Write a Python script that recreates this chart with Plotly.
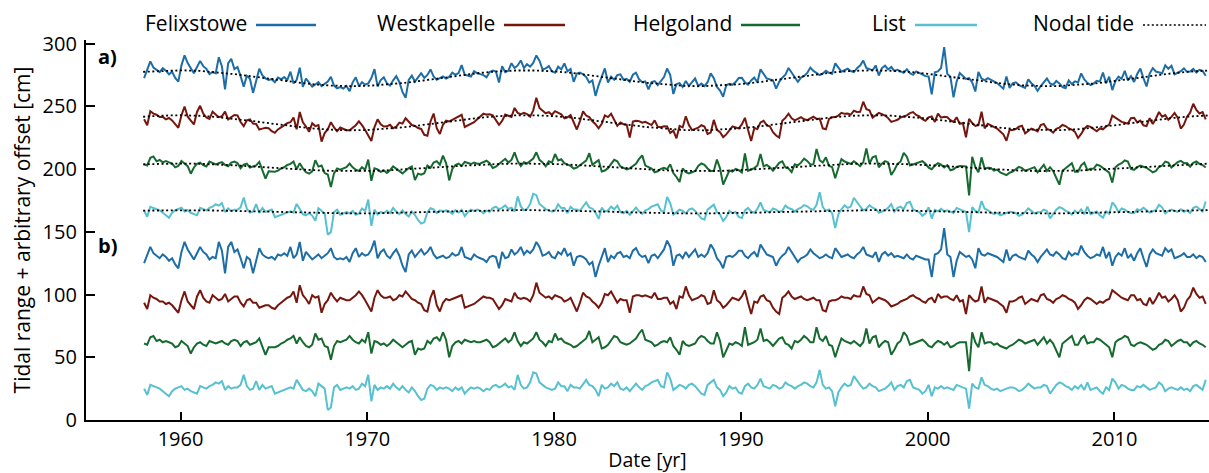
import numpy as np
import plotly.graph_objects as go

# ---------------- data ----------------
# bimonthly tidal-range anomalies [cm], 6 values per year, 1958 .. 2014
felixstowe_anom = [
    -5, 2, 8, 3, 1, -1,      2, 0, -3, -1, -6, -9,     4, 12, 6, 2, -2, 3,      8, 4, 2, -2, 0, -1,
    12, 5, -13, 8, 12, 4,    6, -1, -9, 0, -2, -13,    -4, 7, 2, 0, -1, 0,      -2, 2, 1, 3, 1, 8,
    -1, 2, 12, -3, 4, 1,     -2, 0, 2, -1, 1, 3,       7, 0, -2, -1, -2, 0,     -4, 3, 7, 0, 3, 1,
    2, 6, 13, -1, 4, 6,      1, -1, 3, 6, 1, -7,       -12, 2, 5, 0, 3, 6,      2, 4, 8, 2, -1, 0,
    1, -1, 0, 3, 1, 2,       8, 0, -1, -2, 2, 0,       -1, -2, -4, 0, 1, 0,     -9, 4, -1, 0, 6, 2,
    4, 8, 2, 5, 3, 6,        12, 8, 1, 2, 4, 0,        -1, 4, 2, 7, 1, 3,       -7, 0, 1, 0, -2, -6,
    -4, -16, -7, 0, 7, -4,   1, -1, 3, 4, 0, 1,        -1, 5, 7, 2, 0, 1,       -5, 1, 2, -1, 3, 6,
    13, 8, -7, 1, 2, -1,     4, 0, 3, 6, 0, 2,         0, 3, 10, 6, -1, -4,     -9, 0, 1, 0, 2, 5,
    5, 1, -1, 2, 4, 0,       10, 6, 2, 1, 0, -7,       -2, 1, 3, 8, 4, 1,       -4, -1, 0, 2, 6, 3,
    1, -1, 0, 2, 0, -1,      7, 3, 0, 1, 2, 0,         -1, 2, 4, 8, 2, 1,       0, 4, -4, 2, 4, 1,
    3, 0, 1, 0, -1, 2,       -1, -2, 1, 0, -1, -2,     -2, -16, 2, 3, 6, 23,    2, 0, -16, -3, 4, 2,
    0, 1, -2, -9, 7, 2,      1, 3, 2, 1, 0, -2,        -4, 6, -3, 1, 2, 0,      -1, -2, 5, 2, 0, -4,
    0, 3, 6, 2, 1, 4,        2, -1, -2, 4, 1, 3,       2, 9, 4, 1, -1, 0,       2, 1, 8, -1, 4, -7,
    0, 3, 1, 7, -1, 2,       -3, 3, 7, -1, -8, 2,      6, 3, 2, 1, 7, 4,        6, -1, 0, 1, 3, 0,
    0, 2, -1, 1, 0, -4,
]
westkapelle_anom = [
    -2, -7, 4, 2, 1, -1,     -1, -3, -2, -4, -7, -10,  0, 7, -1, -4, -7, 3,     8, 2, -1, -2, 4, 2,
    0, 1, 5, -1, 1, 3,       3, -2, -5, 0, 1, -2,      -2, -6, -5, -4, -4, -6,  -7, -4, -2, 0, 2, 3,
    7, -2, 12, 4, 1, -3,     4, 2, 3, -10, -3, 0,      6, 2, -1, 2, 1, 0,       0, 2, 4, 7, 4, 0,
    -4, -9, 2, 8, 4, 2,      2, 3, 0, 1, 4, 3,         7, 4, 1, 0, -2, -3,      -8, -9, 2, 8, -4, -9,
    -2, 1, 0, 1, 2, 3,       4, -6, -5, -4, -3, -1,    1, 3, 2, 2, 1, -3,       -7, -4, 1, 0, -1, 6,
    2, 1, 2, 1, -1, 4,       14, 6, 4, 2, 3, 1,        4, 3, 2, -1, 0, 2,       -3, -9, -2, 6, 3, 2,
    -1, -3, -6, -2, 5, 4,    7, 2, -2, 1, 0, 0,        -10, 3, 4, 4, 3, 4,      3, 2, 6, 1, 1, 2,
    2, -3, -1, -7, 3, 2,     11, 4, 0, 1, 2, 4,        3, -3, -2, 8, 0, -2,     -6, -4, -1, 2, 1, 0,
    3, 8, -2, -11, -1, -2,   3, 4, 0, -1, -6, -9,      -11, 2, 4, 7, 3, 1,      2, 3, 1, 0, 1, 2,
    0, 0, -8, -9, -1, 0,     0, 1, 3, 2, 2, 1,         4, 3, 3, 11, 5, 4,       -2, 0, 2, 1, 0, -2,
    -5, -4, -3, -1, 0, 1,    3, 4, 2, 1, -1, -2,       1, 2, -2, 5, 2, 3,       3, 1, 0, 4, -1, 0,
    -11, 4, 1, -1, 0, 11,    -2, 2, 1, 0, -1, -3,      -5, -10, -1, -1, 0, 2,   3, -3, -1, 1, 0, -1,
    4, 5, 1, 0, -2, 1,       2, 4, 3, 1, 0, -2,        -7, -4, 0, 2, 1, -1,     -3, -1, -2, 0, 1, 8,
    6, 4, 2, 1, 0, 4,        4, 0, 1, -3, -4, 2,       -3, 1, 6, 2, 3, -1,      1, 4, 0, -9, -6, 0,
    3, 10, 5, 2, 3, -3,
]
helgoland_anom = [
    0, -1, 5, 6, 2, 3,       1, 2, 1, 0, -3, -2,       2, 0, -2, -8, -3, 0,     1, -1, -2, 2, 1, 0,
    1, 2, 0, -1, 2, 3,       2, -2, 1, 2, -1, 0,       1, 4, -2, -9, -3, -3,    -3, -2, 0, 1, 3, 4,
    6, 0, 5, 1, -2, -3,      -1, 8, 3, 4, -2, -3,      -13, -2, 2, 1, 2, 3,     6, 3, 1, 0, 3, 1,
    9, -8, 2, 1, -1, 0,      -2, 0, 3, 1, -1, -3,      -1, 1, 2, -9, -4, -5,    -4, 2, 0, 4, 5, 2,
    9, 3, -11, -2, 1, 2,     0, 3, 2, 1, 2, 1,         1, 2, 3, 1, -3, -2,      0, 2, 4, 1, 3, 9,
    2, -2, 1, 0, 2, 4,       9, 3, 1, -2, 2, 1,        8, 3, 4, 1, 0, -1,       -3, -2, 0, 2, 4, 10,
    1, 3, 5, -4, -3, -1,     3, 6, 5, 1, 0, -1,        0, 2, 4, 8, 11, 3,       2, 1, -2, -1, 1, 2,
    1, 5, -2, -5, -9, 2,     -1, -2, -1, 0, 4, 6,      5, 2, 0, 0, 9, 2,        -11, -5, 0, -1, 1, 0,
    -2, 13, -1, 0, 1, 3,     12, 2, 3, 1, -2, 1,       4, 5, 0, -1, -4, 2,      1, 3, 6, 4, 1, 1,
    13, 4, 2, 6, -1, -2,     -11, -3, 4, 2, 1, 0,      2, 0, -2, 1, 12, 0,      5, 6, -3, 0, 2, 1,
    -9, -5, 0, 2, 9, 6,      -1, 0, 1, 2, 3, 1,        -2, -3, 0, 2, 1, -1,     1, -3, -2, 0, 1, 1,
    1, -22, 9, 1, -3, 9,     0, 1, 1, -1, 0, -2,       -3, -4, -2, -1, 1, 3,    2, 0, 1, 2, 3, -1,
    2, 5, 0, 3, 0, -5,       -11, 0, 2, 4, 6, -1,      -1, 4, 6, 0, 1, 1,       4, 3, 1, -1, -3, -11,
    1, 3, 4, 6, 5, -1,       -2, 0, 1, 0, -1, -3,      -5, -4, -1, 0, 3, 2,     -2, 0, 2, 3, 1, 1,
    -2, 1, 2, 0, -1, -3,
]
list_anom = [
    0, -5, 3, 2, 1, 0,       -2, -4, -6, -2, 0, 1,     2, -1, 0, -2, -3, -4,    2, 1, 0, 2, 3, 5,
    4, 6, -1, 2, 0, 1,       1, 3, 11, 2, -1, 0,       6, -1, 3, 0, 1, 2,       -4, -3, -2, -1, 0, 1,
    0, 7, 3, -1, -2, 0,      -2, -6, 4, 2, 0, -17,     -15, 1, 3, -1, 0, 1,     0, 2, -1, 0, 4, 2,
    11, -10, 3, -1, 1, 0,    2, 0, 4, 1, -1, 2,        -1, -3, 1, -2, -6, -9,   -8, 0, 3, 2, -1, 1,
    0, 1, 0, -2, 1, -1,      1, -4, -1, 1, 0, 1,       0, -2, 0, -1, 2, 3,      1, 2, 4, 1, 2, -1,
    11, 3, 0, 1, 5, 13,      12, 5, 3, 1, 0, -1,       0, 5, 2, 2, -2, 3,       1, 1, 0, 4, 7, 3,
    2, -1, -6, 3, 0, 1,      4, 2, 5, 0, -1, 1,        -2, 1, 4, 1, -1, 2,      3, 5, 6, 7, 2, 1,
    13, 8, -1, 1, 3, 2,      0, 3, 4, 2, -1, -4,       -5, 3, 5, 7, 1, -1,      -6, -3, 2, 0, 1, -3,
    -4, 2, 4, 1, 0, 3,       8, 2, 1, 0, 3, 2,         0, 1, 5, 3, 2, 0,        2, 3, 5, 4, 2, 1,
    5, 15, 3, 0, 1, -2,      -14, -3, 1, 4, 2, 3,      10, 6, 3, 0, 1, 4,       2, 1, -2, -1, 0, 2,
    5, -1, 2, 3, 1, 6,       7, 1, 0, -1, -4, -2,      3, -6, 1, 0, 2, 0,       1, 0, -1, 3, 2, 1,
    0, -16, 4, 1, 0, 9,      3, 2, 0, -1, 0, -2,       -1, 0, 1, 1, 0, -2,      -1, 1, 4, 2, 0, 1,
    1, 3, 2, -4, 0, 3,       5, 4, 2, 1, -1, 2,        0, 3, -1, 5, -1, 0,      1, -2, -4, 1, -1, 8,
    5, 0, 3, 2, 0, -1,       -1, 2, 1, 3, 1, -1,       0, 1, 5, 3, -2, 0,       1, 0, -1, 1, -1, 0,
    -2, 2, 3, 1, -1, 7,
]

# nodal tide (yearly values, cm) read from the dotted curves of panel a)
nodal_years = list(range(1958, 2016))
felixstowe_nodal = [
    277.6, 278.5, 278.8, 278.4, 277.3, 275.6, 273.6, 271.5, 269.5, 267.8, 266.7, 266.2, 266.4, 267.3,
    268.8, 270.7, 272.8, 274.9, 276.7, 278.0, 278.7, 278.7, 278.0, 276.7, 274.9, 272.8, 270.7, 268.8,
    267.3, 266.4, 266.2, 266.7, 267.8, 269.5, 271.5, 273.6, 275.6, 277.3, 278.4, 278.8, 278.5, 277.6,
    276.0, 274.1, 272.0, 270.0, 268.2, 266.9, 266.3, 266.3, 267.1, 268.4, 270.3, 272.4, 274.5, 276.3,
    277.8, 278.6,
]
westkapelle_nodal = [
    241.8, 242.7, 243.0, 242.6, 241.5, 240.0, 238.1, 236.1, 234.2, 232.6, 231.5, 231.0, 231.2, 232.1,
    233.5, 235.3, 237.3, 239.3, 241.0, 242.3, 242.9, 242.9, 242.3, 241.0, 239.3, 237.3, 235.3, 233.5,
    232.1, 231.2, 231.0, 231.5, 232.6, 234.2, 236.1, 238.1, 240.0, 241.5, 242.6, 243.0, 242.7, 241.8,
    240.4, 238.5, 236.5, 234.6, 232.9, 231.7, 231.1, 231.1, 231.8, 233.1, 234.9, 236.9, 238.9, 240.6,
    242.0, 242.8,
]
helgoland_nodal = [
    203.9, 204.4, 204.5, 204.3, 203.8, 203.0, 202.0, 201.0, 200.1, 199.3, 198.7, 198.5, 198.6, 199.0,
    199.7, 200.7, 201.7, 202.6, 203.5, 204.1, 204.5, 204.5, 204.1, 203.5, 202.6, 201.7, 200.7, 199.7,
    199.0, 198.6, 198.5, 198.7, 199.3, 200.1, 201.0, 202.0, 203.0, 203.8, 204.3, 204.5, 204.4, 203.9,
    203.2, 202.3, 201.3, 200.3, 199.4, 198.8, 198.5, 198.6, 198.9, 199.6, 200.4, 201.4, 202.4, 203.3,
    204.0, 204.4,
]
list_nodal = [
    167.0, 167.2, 167.3, 167.2, 167.0, 166.6, 166.2, 165.8, 165.4, 165.0, 164.8, 164.7, 164.7, 164.9,
    165.2, 165.6, 166.1, 166.5, 166.9, 167.1, 167.3, 167.3, 167.1, 166.9, 166.5, 166.1, 165.6, 165.2,
    164.9, 164.7, 164.7, 164.8, 165.0, 165.4, 165.8, 166.2, 166.6, 167.0, 167.2, 167.3, 167.2, 167.0,
    166.7, 166.3, 165.9, 165.5, 165.1, 164.8, 164.7, 164.7, 164.9, 165.2, 165.5, 166.0, 166.4, 166.8,
    167.1, 167.3,
]

# arbitrary offsets of the detrended series in panel b)
offset_b = {"Felixstowe": 130.0, "Westkapelle": 95.5, "Helgoland": 61.0, "List": 25.0}

stations = ["Felixstowe", "Westkapelle", "Helgoland", "List"]
colors = {"Felixstowe": "#1d6da6", "Westkapelle": "#76170f",
          "Helgoland": "#166a2f", "List": "#57c1d0"}
anoms = {"Felixstowe": felixstowe_anom, "Westkapelle": westkapelle_anom,
         "Helgoland": helgoland_anom, "List": list_anom}
nodals = {"Felixstowe": felixstowe_nodal, "Westkapelle": westkapelle_nodal,
          "Helgoland": helgoland_nodal, "List": list_nodal}

n = len(felixstowe_anom)
t = 1958.05 + np.arange(n) / 6.0

fig = go.Figure()
for s in stations:
    a = np.array(anoms[s], dtype=float)
    nod = np.interp(t, np.array(nodal_years, dtype=float), np.array(nodals[s]))
    fig.add_trace(go.Scatter(x=t, y=nod + a, mode="lines",
                             line=dict(color=colors[s], width=2.0), showlegend=False))
    fig.add_trace(go.Scatter(x=t, y=offset_b[s] + a, mode="lines",
                             line=dict(color=colors[s], width=2.0), showlegend=False))
for s in stations:
    fig.add_trace(go.Scatter(x=nodal_years, y=nodals[s], mode="lines",
                             line=dict(color="black", width=1.8, dash="2px,2.6px"),
                             showlegend=False))

# ---------------- layout ----------------
W, H = 1209, 473
ML, MR, MT, MB = 86, 0, 40, 53
PW, PH = W - ML - MR, H - MT - MB
FONT = "Open Sans"


def px(xp):
    return (xp - ML) / PW


def py(yp):
    return (H - MB - yp) / PH


annotations = []
shapes = []
legend_items = [("Felixstowe", 256, 316, colors["Felixstowe"], "solid"),
                ("Westkapelle", 504, 565, colors["Westkapelle"], "solid"),
                ("Helgoland", 741, 800, colors["Helgoland"], "solid"),
                ("List", 915, 977, colors["List"], "solid"),
                ("Nodal tide", 1143, 1206, "black", "dot")]
for name, x0, x1, col, dash in legend_items:
    annotations.append(dict(text=name, x=px(x0 - 7), y=py(22.5), xref="paper", yref="paper",
                            xanchor="right", yanchor="middle", showarrow=False,
                            font=dict(family=FONT, size=21, color="black")))
    shapes.append(dict(type="line", xref="paper", yref="paper", x0=px(x0), x1=px(x1),
                       y0=py(25), y1=py(25),
                       line=dict(color=col, width=2.5 if dash == "solid" else 1.6,
                                 dash="solid" if dash == "solid" else "2px,2.4px")))

for lab, yy in [("a)", 56), ("b)", 245)]:
    annotations.append(dict(text="<b>%s</b>" % lab, x=px(96), y=py(yy), xref="paper",
                            yref="paper", xanchor="left", yanchor="middle", showarrow=False,
                            font=dict(family=FONT, size=20, color="black")))

fig.update_layout(
    width=W, height=H,
    margin=dict(l=ML, r=MR, t=MT, b=MB),
    paper_bgcolor="white", plot_bgcolor="white",
    font=dict(family=FONT, size=20, color="black"),
    annotations=annotations, shapes=shapes,
    xaxis=dict(range=[1954.94, 2015.06], tickvals=[1960, 1970, 1980, 1990, 2000, 2010],
               ticks="inside", ticklen=8, tickwidth=2, tickcolor="black",
               showline=True, linecolor="black", linewidth=2.2, showgrid=False,
               zeroline=False, tickfont=dict(family=FONT, size=20),
               title=dict(text="Date [yr]", font=dict(family=FONT, size=19.5), standoff=5)),
    yaxis=dict(range=[0, 303], tickvals=[0, 50, 100, 150, 200, 250, 300],
               ticks="inside", ticklen=9, tickwidth=2, tickcolor="black",
               ticklabelstandoff=3,
               showline=True, linecolor="black", linewidth=2.2, showgrid=False,
               zeroline=False, tickfont=dict(family=FONT, size=20),
               title=dict(text="Tidal range + arbitrary offset [cm]",
                          font=dict(family=FONT, size=21), standoff=6)),
)

fig.write_html("out.html")
